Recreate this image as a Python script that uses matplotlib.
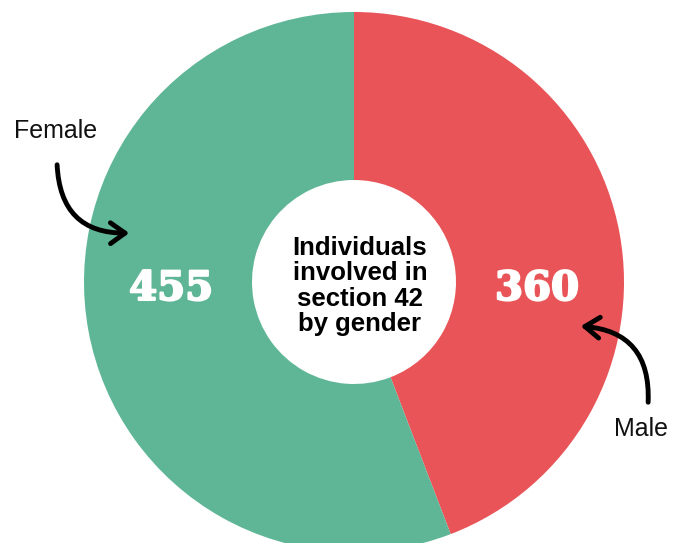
import matplotlib.pyplot as plt
import matplotlib.patheffects as pe
from matplotlib.patches import FancyArrowPatch

# data
genders = ['Male', 'Female']
counts = [360, 455]
colors = ['#e85457', '#5fb697']

W, H = 682, 543
fig = plt.figure(figsize=(W / 100, H / 100), dpi=100)
ax = fig.add_axes([0, 0, 1, 1])
ax.set_xlim(0, W)
ax.set_ylim(0, H)
ax.set_aspect('equal')
ax.axis('off')

cx, cy = 354, H - 282
r_out, r_in = 270, 102

ax.pie(counts, colors=colors, startangle=90, counterclock=False,
       center=(cx, cy), radius=r_out,
       wedgeprops=dict(width=r_out - r_in, edgecolor='none'))
ax.set_xlim(0, W)
ax.set_ylim(0, H)
ax.axis('off')

# value labels (thickened a little to look like a heavy slab serif)
thick = [pe.withStroke(linewidth=1.5, foreground='white')]
ax.text(171, H - 289, str(counts[1]), color='white', fontsize=29,
        fontweight='heavy', family='DejaVu Serif', ha='center', va='center',
        path_effects=thick)
ax.text(537, H - 289, str(counts[0]), color='white', fontsize=29,
        fontweight='heavy', family='DejaVu Serif', ha='center', va='center',
        path_effects=thick)

# centre title
ax.text(cx + 6, H - 286, 'Individuals\ninvolved in\nsection 42\nby gender',
        fontsize=18.5, fontweight='bold', family='Liberation Sans',
        ha='center', va='center', linespacing=1.06, color='black')

# outside labels
ax.text(56, H - 131, 'Female', fontsize=18, family='Liberation Sans',
        ha='center', va='center', color='#111111')
ax.text(641, H - 429, 'Male', fontsize=18, family='Liberation Sans',
        ha='center', va='center', color='#111111')

# arrows
a1 = FancyArrowPatch((57, H - 162), (132, H - 233),
                     connectionstyle='arc3,rad=0.5',
                     arrowstyle='->,head_length=7,head_width=5',
                     lw=3.5, color='black', mutation_scale=1.5)
a2 = FancyArrowPatch((648, H - 405), (578, H - 326),
                     connectionstyle='arc3,rad=0.5',
                     arrowstyle='->,head_length=7,head_width=5',
                     lw=3.5, color='black', mutation_scale=1.5)
ax.add_patch(a1)
ax.add_patch(a2)

fig.savefig('out.png', dpi=100)
